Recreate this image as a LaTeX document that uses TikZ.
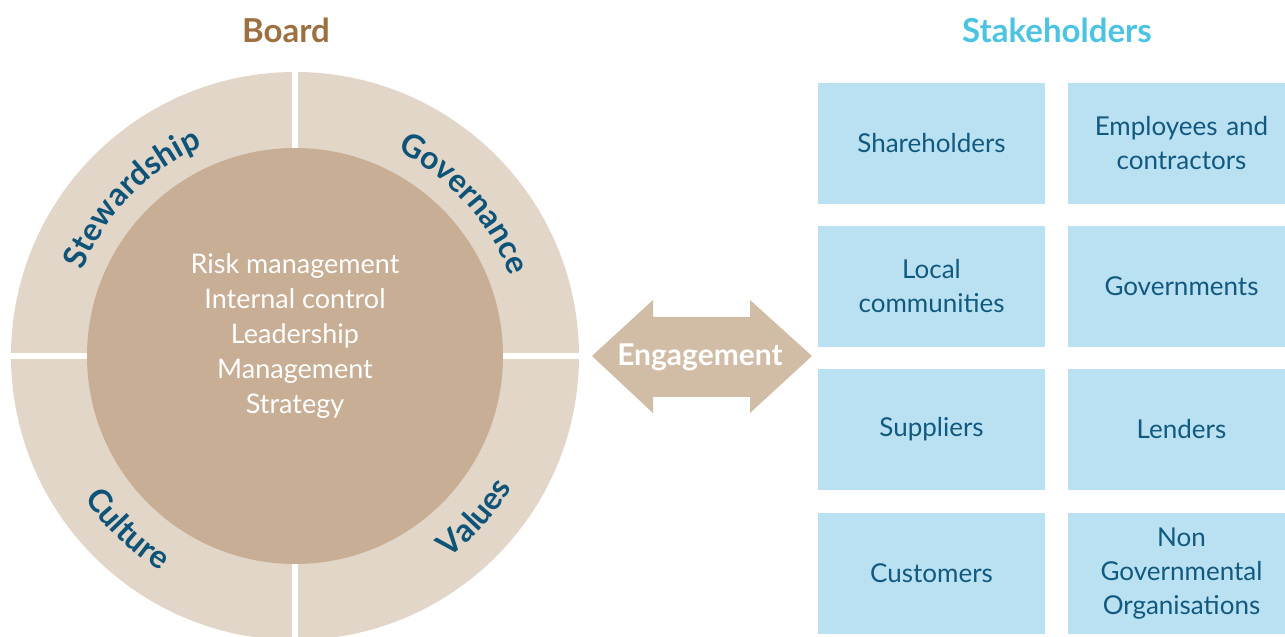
\documentclass[tikz,border=0pt]{standalone}
\usepackage{fontspec}
\setmainfont{Lato}
\usetikzlibrary{decorations.text,calc}
\definecolor{ringc}{HTML}{E2D6C8}
\definecolor{innerc}{HTML}{C7AE95}
\definecolor{arrowc}{HTML}{D1BCA6}
\definecolor{boxc}{HTML}{B9E1F2}
\definecolor{boxtext}{HTML}{12597F}
\definecolor{ringtext}{HTML}{0E5479}
\definecolor{boardc}{HTML}{9C7040}
\definecolor{stakec}{HTML}{4DC3E3}
\newcommand\ringfont{\bfseries\fontsize{32}{32}\selectfont}
\tikzset{
  stakebox/.style={fill=boxc, minimum width=227pt, minimum height=121pt, inner sep=0pt,
    text=boxtext, align=center, text width=210pt, font=\fontsize{26}{34}\selectfont},
  heading/.style={font=\bfseries\fontsize{33}{33}\selectfont},
  ringlabel/.style={decorate, decoration={text along path, text align=center, text color=ringtext}},
}
\begin{document}
\begin{tikzpicture}[x=1pt,y=1pt]
\useasboundingbox (0,0) rectangle (1285,637);
% headings
\node[heading, text=boardc] (board) at (286,607) {Board};
\node[heading, text=stakec] (stake) at (1057,607) {Stakeholders};
% ring
\coordinate (c) at (295,281);
\fill[ringc] (c) circle[radius=284pt];
\fill[white] (292,0) rectangle (298,570);
\fill[white] (0,278) rectangle (590,284);
\fill[innerc] (c) circle[radius=208pt];
% inner text
\node[text=white, align=center, font=\fontsize{27}{35}\selectfont] (core) at (295,301)
  {Risk management\\Internal control\\Leadership\\Management\\Strategy};
% ring labels
\path[ringlabel, decoration={text={|\ringfont|Stewardship}}]
  ($(c)+(175:229pt)$) arc[start angle=175, end angle=97, radius=229pt];
\path[ringlabel, decoration={text={|\ringfont|Governance}}]
  ($(c)+(82:229pt)$) arc[start angle=82, end angle=2, radius=229pt];
\path[ringlabel, decoration={text={|\ringfont|Culture}}]
  ($(c)+(190:254pt)$) arc[start angle=190, end angle=262, radius=254pt];
\path[ringlabel, decoration={text={|\ringfont|Values}}]
  ($(c)+(282:254pt)$) arc[start angle=282, end angle=354, radius=254pt];
% engagement arrow
\fill[arrowc] (592,281) -- (653,337) -- (653,320) -- (750,320) -- (750,337) -- (812,281)
  -- (750,224) -- (750,240) -- (653,240) -- (653,224) -- cycle;
\node[text=white, font=\bfseries\fontsize{30}{30}\selectfont] (eng) at (700,280) {Engagement};
% stakeholder boxes
\node[stakebox] (b1) at (931.5,493.5) {Shareholders};
\node[stakebox] (b2) at (1181.5,493.5) {Employees and\\contractors};
\node[stakebox] (b3) at (931.5,350.5) {Local\\communities};
\node[stakebox] (b4) at (1181.5,350.5) {Governments};
\node[stakebox] (b5) at (931.5,207.5) {Suppliers};
\node[stakebox] (b6) at (1181.5,207.5) {Lenders};
\node[stakebox] (b7) at (931.5,63.5) {Customers};
\node[stakebox] (b8) at (1181.5,63.5) {Non\\Governmental\\Organisations};
\end{tikzpicture}
\end{document}
